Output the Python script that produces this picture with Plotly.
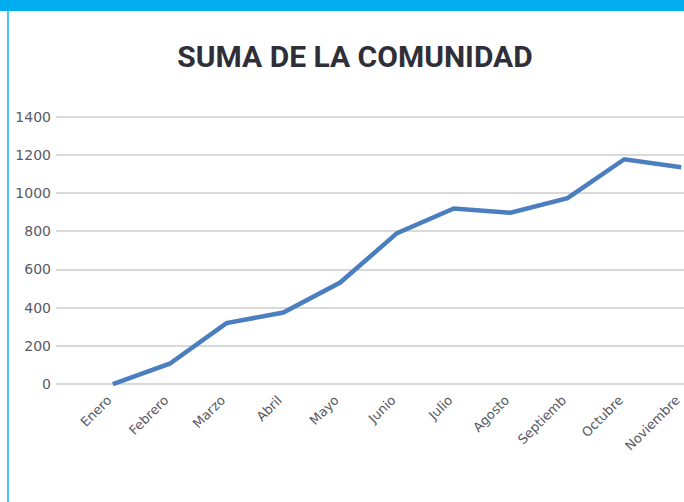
import plotly.graph_objects as go

months = ["Enero", "Febrero", "Marzo", "Abril", "Mayo", "Junio", "Julio",
          "Agosto", "Septiemb", "Octubre", "Noviembre"]
values = [0, 107, 320, 375, 532, 791, 920, 898, 974, 1178, 1136]
y_ticks = [0, 200, 400, 600, 800, 1000, 1200, 1400]

W, H = 684, 502
left, right = 56, 684
top, bottom = 114, 387

fig = go.Figure()
fig.add_trace(go.Scatter(
    x=list(range(len(months))), y=values, mode="lines",
    line=dict(color="#4A7EBF", width=4.5),
    hoverinfo="skip", showlegend=False,
))

fig.update_layout(
    template="none",
    width=W, height=H,
    margin=dict(l=0, r=0, t=0, b=0, pad=0, autoexpand=False),
    paper_bgcolor="white", plot_bgcolor="white",
    title=dict(text="<b>SUMA DE LA COMUNIDAD</b>", x=355 / W, xanchor="center",
               y=1 - 56 / H, yanchor="middle",
               font=dict(family="Roboto, Liberation Sans, sans-serif",
                         size=30, color="#2F2F3A")),
    xaxis=dict(
        domain=[left / W, right / W],
        range=[-1, 10.05],
        tickmode="array", tickvals=list(range(len(months))), ticktext=months,
        tickangle=-45, showgrid=False, zeroline=False, showline=False,
        ticks="", automargin=False, ticklabeloverflow="allow",
        ticklabelshift=-5, ticklabelstandoff=2,
        tickfont=dict(family="DejaVu Sans, sans-serif", size=13, color="#5A5A64"),
        fixedrange=True,
    ),
    yaxis=dict(
        domain=[(H - bottom) / H, (H - top) / H],
        range=[-15, 1415],
        tickmode="array", tickvals=y_ticks,
        showgrid=True, gridcolor="#D9D9D9", gridwidth=1.5,
        zeroline=False, showline=False, ticks="", automargin=False,
        tickfont=dict(family="DejaVu Sans, sans-serif", size=14, color="#5A5A64"),
        ticklabelstandoff=4,
        fixedrange=True,
    ),
    shapes=[
        dict(type="rect", xref="paper", yref="paper", x0=0, x1=1,
             y0=1 - 11 / H, y1=1, fillcolor="#00AEEF", line=dict(width=0), layer="above"),
        dict(type="line", xref="paper", yref="paper", x0=8 / W, x1=8 / W,
             y0=0, y1=1 - 11 / H, line=dict(color="#4FC6F0", width=2)),
    ],
)

fig.write_html(
    "out.html",
    config={"displayModeBar": False},
    post_script="document.body.style.margin='0';document.body.style.overflow='hidden';",
)
